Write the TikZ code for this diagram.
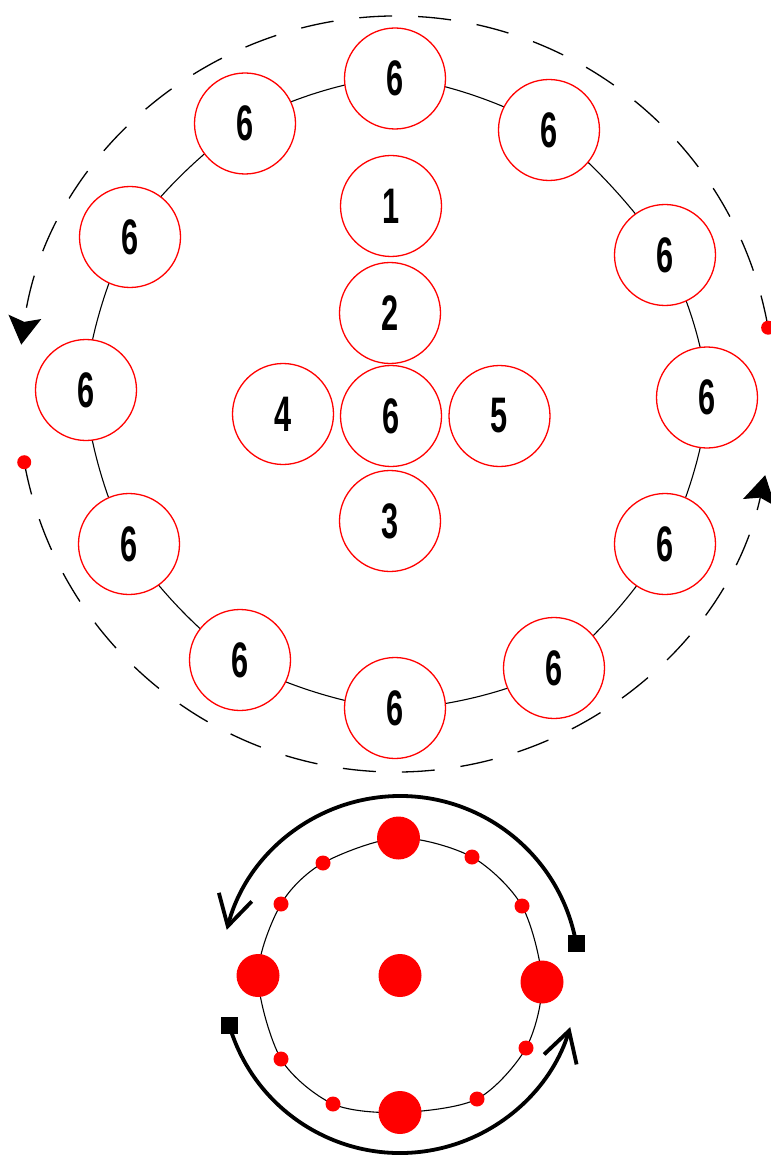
\documentclass[tikz,border=0pt]{standalone}
\usepackage{fontspec}
\setmainfont{Liberation Sans}
\usepackage{graphicx}
\usetikzlibrary{arrows.meta}
\newcommand{\dgt}[1]{\scalebox{0.64}[1.04]{#1}}
\begin{document}
\begin{tikzpicture}[x=1pt,y=1pt,
  ball/.style={circle, draw=red, line width=1.3pt, fill=white, minimum size=101pt, inner sep=0pt, font=\fontsize{48}{48}\selectfont\bfseries},
  bigdot/.style={circle, fill=red, minimum size=43pt, inner sep=0pt},
  smalldot/.style={circle, fill=red, minimum size=15pt, inner sep=0pt},
  tipdot/.style={circle, fill=red, minimum size=14pt, inner sep=0pt},
  ringline/.style={line width=1.1pt, draw=black},
  dashline/.style={line width=1.3pt, dash pattern=on 33pt off 26pt},
  dashtip/.style={-{Stealth[length=28pt,width=33pt,inset=5pt]}},
  thickarc/.style={line width=3.8pt},
  barbtip/.style={-{Straight Barb[length=30pt,width=34pt]}},
  sq/.style={rectangle, fill=black, minimum size=17pt, inner sep=0pt}]
\useasboundingbox (0,-1155) rectangle (770,0);

% ---------- upper diagram ----------
\coordinate (p1) at (395,-78.5);
\coordinate (p2) at (245,-123.5);
\coordinate (p3) at (130,-237);
\coordinate (p4) at (86,-390);
\coordinate (p5) at (129,-544);
\coordinate (p6) at (240,-660);
\coordinate (p7) at (395,-708);
\coordinate (p8) at (554,-668);
\coordinate (p9) at (665,-544);
\coordinate (p10) at (707,-397.5);
\coordinate (p11) at (665,-255);
\coordinate (p12) at (549,-130);
\draw[ringline] plot[smooth cycle] coordinates {(p1) (p2) (p3) (p4) (p5) (p6) (p7) (p8) (p9) (p10) (p11) (p12)};

\foreach \i in {1,...,12} {\node[ball] (r\i) at (p\i) {\dgt{6}};}

\node[ball] (c1) at (391,-206) {\dgt{1}};
\node[ball] (c2) at (390,-313) {\dgt{2}};
\node[ball] (c6) at (391,-416) {\dgt{6}};
\node[ball] (c3) at (390,-521) {\dgt{3}};
\node[ball] (c4) at (283,-414) {\dgt{4}};
\node[ball] (c5) at (499.5,-416) {\dgt{5}};

\coordinate (oc) at (396,-394);
\draw[dashline, dashtip] ([shift={(10.1:378)}]oc) arc[start angle=10.1, end angle=172.5, radius=378];
\draw[dashline, dashtip] ([shift={(190.4:378)}]oc) arc[start angle=190.4, end angle=347.6, radius=378];
\node[tipdot] (d1) at ([shift={(10.1:378)}]oc) {};
\node[tipdot] (d2) at ([shift={(190.4:378)}]oc) {};

% ---------- lower diagram ----------
\coordinate (bc) at (400,-975);
\coordinate (q1) at (398.5,-838);
\coordinate (q2) at (472,-857);
\coordinate (q3) at (522,-906);
\coordinate (q4) at (542,-982);
\coordinate (q5) at (526,-1048);
\coordinate (q6) at (477,-1099);
\coordinate (q7) at (400,-1112.5);
\coordinate (q8) at (333,-1104);
\coordinate (q9) at (281,-1059);
\coordinate (q10) at (258,-975.5);
\coordinate (q11) at (281,-904);
\coordinate (q12) at (323,-863);
\draw[ringline] plot[smooth cycle] coordinates {(q1) (q2) (q3) (q4) (q5) (q6) (q7) (q8) (q9) (q10) (q11) (q12)};

\foreach \i in {1,4,7,10} {\node[bigdot] (b\i) at (q\i) {};}
\foreach \i in {2,3,5,6,8,9,11,12} {\node[smalldot] (b\i) at (q\i) {};}
\node[bigdot] (b0) at (400,-975.5) {};

\draw[thickarc, barbtip] ([shift={(10:179)}]bc) arc[start angle=10, end angle=165.4, radius=179];
\draw[thickarc, barbtip] ([shift={(196.6:178)}]bc) arc[start angle=196.6, end angle=343, radius=178];
\node[sq] (s1) at ([shift={(10:179)}]bc) {};
\node[sq] (s2) at ([shift={(196.6:178)}]bc) {};
\end{tikzpicture}
\end{document}
